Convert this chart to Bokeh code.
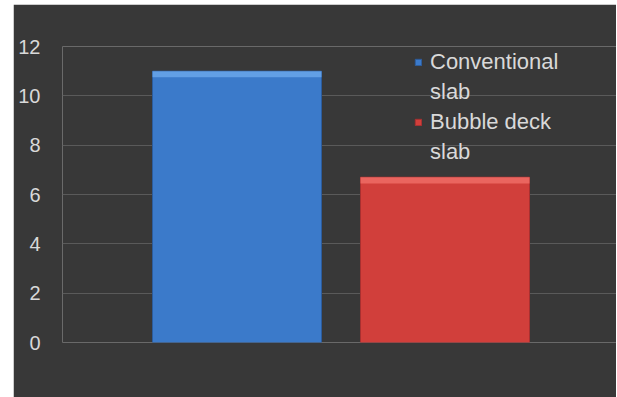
from bokeh.plotting import figure
from bokeh.models import Range1d, Legend, LegendItem, FixedTicker, ColumnDataSource, Spacer
from bokeh.layouts import row, column
from bokeh.embed import file_html
from bokeh.resources import INLINE

# ---- data ----
series = ["Conventional slab", "Bubble deck slab"]
legend_lines = [["Conventional", "slab"], ["Bubble deck", "slab"]]
values = [11.0, 6.7]
y_ticks = [0, 2, 4, 6, 8, 10, 12]

# ---- styles ----
bar_colors = ["#3b7aca", "#d13f3b"]
bar_lines = ["#2c5c9c", "#a83030"]
bevel_colors = ["#6aa6ea", "#ee6c66"]
bg = "#383838"
txt = "#d9d9d9"
font = "Liberation Sans"

xs = list(range(len(values)))
bevel_depth = 0.25
src = ColumnDataSource(dict(x=xs, top=values, color=bar_colors, line=bar_lines, label=series))
bevel_src = ColumnDataSource(dict(x=xs, top=values,
                                  bottom=[v - bevel_depth for v in values],
                                  color=bevel_colors))

p = figure(width=603, height=393, output_backend="svg", toolbar_location=None,
           x_range=Range1d(-0.839, 1.8245), y_range=Range1d(0, 12),
           min_border_left=49, min_border_right=0, min_border_top=42, min_border_bottom=55)
p.background_fill_color = bg
p.border_fill_color = bg
p.outline_line_color = None

bars = p.vbar(x="x", top="top", bottom=0, width=0.8125, source=src,
              fill_color="color", line_color="line", line_width=1)
p.vbar(x="x", top="top", bottom="bottom", width=0.8125, source=bevel_src,
       fill_color="color", line_color=None, fill_alpha=0.85)
# invisible renderer used for the wrapped second line of each legend entry
blank = p.vbar(x=[], top=[], width=0.1, fill_alpha=0, line_alpha=0)

p.xaxis.visible = False
p.xgrid.visible = False
p.yaxis.ticker = FixedTicker(ticks=y_ticks)
p.yaxis.axis_line_color = None
p.yaxis.major_tick_line_color = None
p.yaxis.minor_tick_line_color = None
p.yaxis.major_label_text_color = txt
p.yaxis.major_label_text_font = font
p.yaxis.major_label_text_font_size = "20px"
p.yaxis.major_label_standoff = 16
p.ygrid.ticker = FixedTicker(ticks=y_ticks)
p.ygrid.grid_line_color = "#5a5a5a"
p.ygrid.grid_line_width = 1

items = []
for i, lines in enumerate(legend_lines):
    items.append(LegendItem(label=lines[0], renderers=[bars], index=i))
    items.append(LegendItem(label=lines[1], renderers=[blank]))

legend = Legend(items=items,
                location=(352, 175), background_fill_alpha=0, border_line_color=None,
                padding=0, margin=0, spacing=0, label_standoff=8,
                glyph_width=8, glyph_height=8, label_height=30,
                label_text_color=txt, label_text_font=font,
                label_text_font_size="22px", label_text_baseline="middle")
p.add_layout(legend)

layout = column(Spacer(width=616, height=4), row(Spacer(width=13, height=393), p))
open("out.html", "w").write(file_html(layout, INLINE))
